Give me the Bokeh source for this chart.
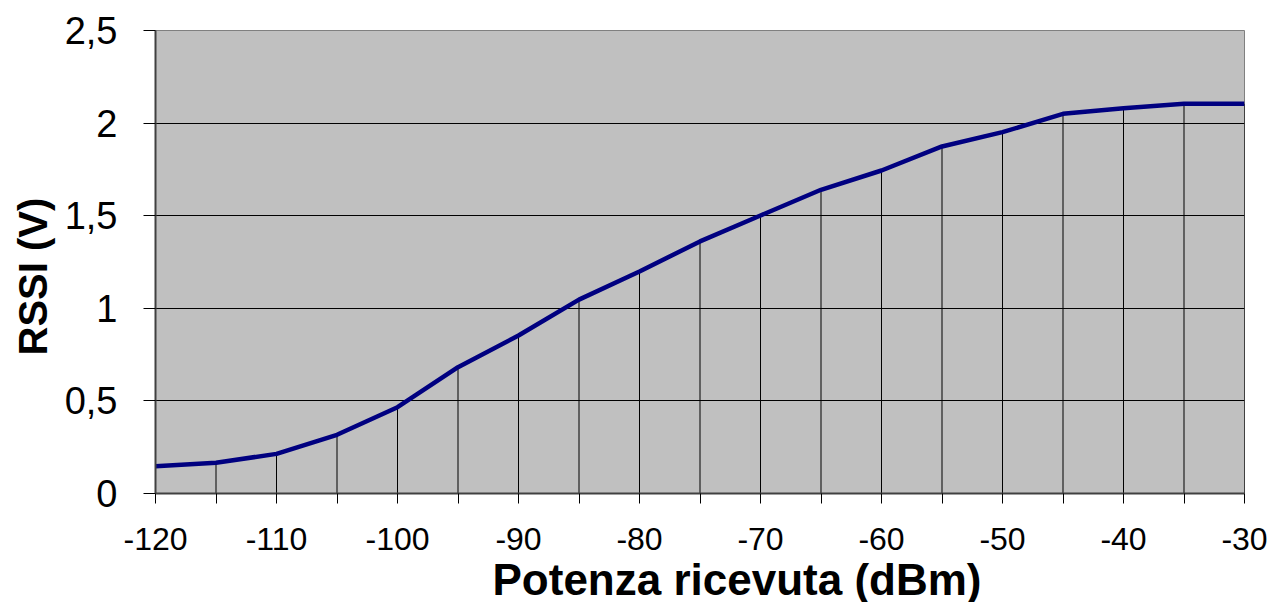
from bokeh.plotting import figure
from bokeh.models import FixedTicker, Range1d, Title
from bokeh.embed import file_html
from bokeh.resources import INLINE

# Data (dBm -> RSSI V)
power_dbm = [-120, -115, -110, -105, -100, -95, -90, -85, -80, -75,
             -70, -65, -60, -55, -50, -45, -40, -35, -30]
rssi_v = [0.147, 0.166, 0.214, 0.317, 0.466, 0.682, 0.853, 1.047, 1.199, 1.361,
          1.501, 1.640, 1.744, 1.874, 1.951, 2.050, 2.080, 2.104, 2.104]

x_ticks = [-120, -110, -100, -90, -80, -70, -60, -50, -40, -30]
x_tick_labels = ["-120", "-110", "-100", "-90", "-80", "-70", "-60", "-50", "-40", "-30"]
x_minor = [-115, -105, -95, -85, -75, -65, -55, -45, -35]
y_ticks = [0, 0.5, 1, 1.5, 2, 2.5]
y_tick_labels = ["0", "0,5", "1", "1,5", "2", "2,5"]
x_title = "Potenza ricevuta (dBm)"
y_title = "RSSI (V)"

p = figure(width=1276, height=600, output_backend="svg", toolbar_location=None,
           x_range=Range1d(-120, -30), y_range=Range1d(0, 2.5),
           frame_width=1089, frame_height=463,
           min_border_left=155, min_border_top=30, min_border_right=32, min_border_bottom=107)

p.background_fill_color = "#C0C0C0"
p.border_fill_color = "white"
p.outline_line_color = "#808080"
p.outline_line_width = 1

# grid
p.xgrid.visible = False
p.ygrid.ticker = FixedTicker(ticks=y_ticks)
p.ygrid.grid_line_color = "black"
p.ygrid.grid_line_width = 1

# drop lines
p.segment(x0=power_dbm, y0=[0] * len(power_dbm), x1=power_dbm, y1=rssi_v,
          line_color="black", line_width=1)

# curve
p.line(power_dbm, rssi_v, line_color="#000080", line_width=4.5)

font = "Liberation Sans"

# x axis
xa = p.xaxis[0]
xa.ticker = FixedTicker(ticks=x_ticks, minor_ticks=x_minor)
xa.major_label_overrides = {t: l for t, l in zip(x_ticks, x_tick_labels)}
xa.axis_line_color = "#404040"
xa.axis_line_width = 2
xa.major_tick_in = 0
xa.major_tick_out = 10
xa.minor_tick_in = 0
xa.minor_tick_out = 10
xa.major_tick_line_color = "black"
xa.minor_tick_line_color = "black"
xa.major_label_text_font = font
xa.major_label_text_font_size = "32px"
xa.major_label_text_color = "black"
xa.major_label_standoff = 24

# y axis
ya = p.yaxis[0]
ya.ticker = FixedTicker(ticks=y_ticks)
ya.major_label_overrides = {t: l for t, l in zip(y_ticks, y_tick_labels)}
ya.axis_line_color = "#404040"
ya.axis_line_width = 2
ya.major_tick_in = 0
ya.major_tick_out = 12
ya.minor_tick_line_color = None
ya.major_tick_line_color = "black"
ya.major_label_text_font = font
ya.major_label_text_font_size = "38px"
ya.major_label_text_color = "black"
ya.major_label_standoff = 26

# axis titles
p.add_layout(Title(text=x_title, align="left", offset=337, standoff=0,
                   text_font=font, text_font_size="44px", text_font_style="bold",
                   text_color="black"), "below")
p.add_layout(Title(text=y_title, align="left", offset=138, standoff=14,
                   text_font=font, text_font_size="40px", text_font_style="bold",
                   text_color="black"), "left")

open("out.html", "w").write(file_html(p, INLINE))
